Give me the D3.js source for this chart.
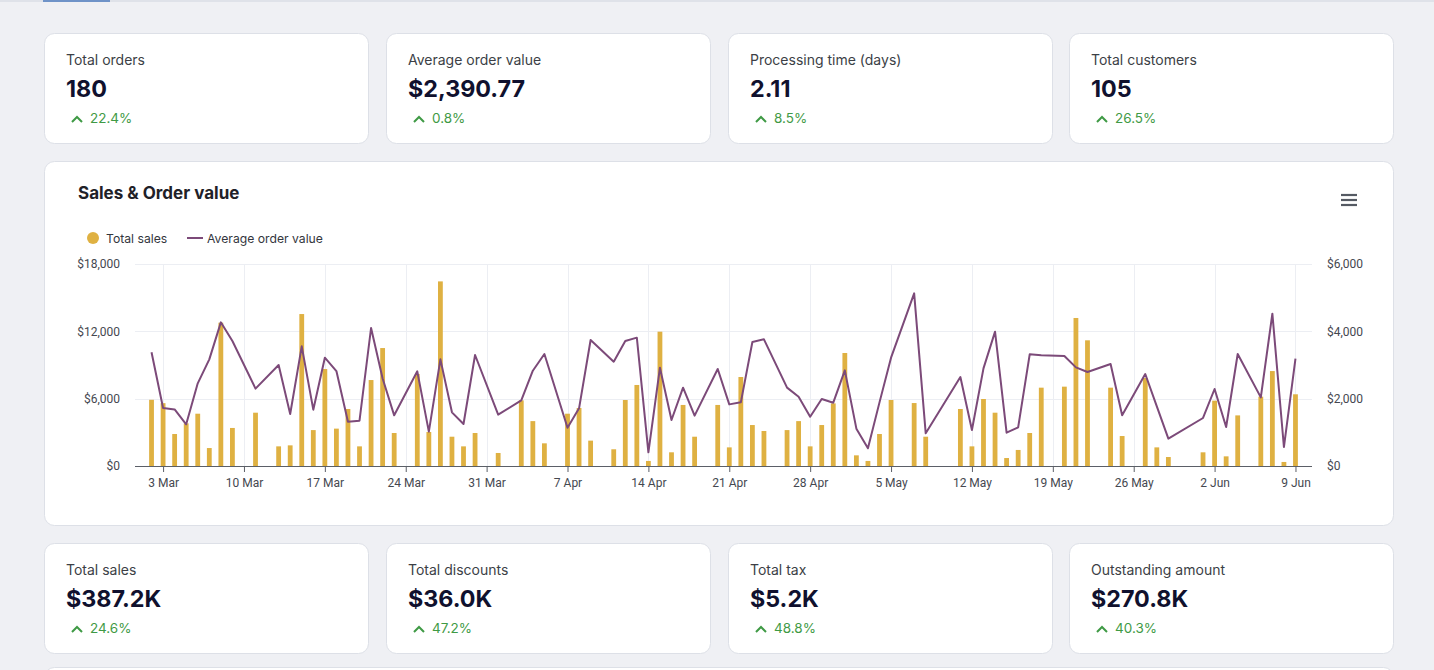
<!DOCTYPE html>
<html>
<head>
<meta charset="utf-8">
<script src="https://cdn.jsdelivr.net/npm/d3@7"></script>
<style>
  html, body { margin: 0; padding: 0; background: #eff0f4; }
  svg { display: block; font-family: Inter, "Noto Sans", sans-serif; }
</style>
</head>
<body>
<div id="chart"></div>
<script>
// Daily data, 2 Mar 2024 .. 9 Jun 2024 (one value per day)
const startDay = '2024-03-02'
const totalSales = [
  5900, 5600, 2850, 3800, 4660, 1600, 12770, 3390, 0, 4750,
  0, 1750, 1840, 13540, 3200, 8640, 3330, 5080, 1750, 7660,
  10510, 2940, 0, 8200, 3030, 16450, 2610, 1750, 2940, 0,
  1160, 0, 5850, 4000, 2020, 0, 4660, 5170, 2260, 0,
  1490, 5880, 7220, 450, 11970, 1220, 5440, 2610, 0, 5440,
  1660, 7930, 3650, 3120, 0, 3200, 4000, 1750, 3650, 5580,
  10070, 950, 450, 2850, 5880, 0, 5610, 2610, 0, 0,
  5080, 1750, 5970, 4750, 710, 1430, 2940, 6980, 0, 7070,
  13190, 11200, 0, 6980, 2670, 0, 7840, 1660, 800, 0,
  0, 1220, 5820, 860, 4510, 0, 6180, 8460, 360, 6390
]
const avgOrderValue = [
  3380, 1723, 1680, 1238, 2455, 3168, 4267, 3713, null, 2297,
  null, 3000, 1544, 3554, 1673, 3218, 2820, 1317, 1346, 4099,
  2600, 1505, null, 2812, 1020, 3168, 1594, 1247, 3297, null,
  1525, null, 1950, 2830, 3326, null, 1138, 1713, 3742, null,
  3099, 3713, 3812, 406, 2920, 1366, 2326, 1495, null, 2881,
  1830, 1891, 3683, 3762, null, 2327, 2059, 1465, 1990, 1881,
  2841, 1109, 525, 1890, 3218, null, 5128, 970, null, null,
  2643, 1069, 2900, 3990, 990, 1148, 3317, 3287, null, 3267,
  2930, 2792, null, 3029, 1505, null, 2732, 1770, 812, null,
  null, 1426, 2287, 1158, 3326, null, 2039, 4524, 564, 3188
]
const leftTicks = [0, 6000, 12000, 18000]
const rightTicks = [0, 2000, 4000, 6000]

const topCards = [
  { label: 'Total orders', value: '180', change: '22.4%' },
  { label: 'Average order value', value: '$2,390.77', change: '0.8%' },
  { label: 'Processing time (days)', value: '2.11', change: '8.5%' },
  { label: 'Total customers', value: '105', change: '26.5%' }
]
const bottomCards = [
  { label: 'Total sales', value: '$387.2K', change: '24.6%' },
  { label: 'Total discounts', value: '$36.0K', change: '47.2%' },
  { label: 'Total tax', value: '$5.2K', change: '48.8%' },
  { label: 'Outstanding amount', value: '$270.8K', change: '40.3%' }
]

const W = 1434, H = 670
const BAR = '#dfb142', LINE = '#7c4a79', GREEN = '#3f9a45'

const svg = d3.select('#chart').append('svg')
  .attr('width', W).attr('height', H)

// top tab strip
svg.append('rect').attr('x', 0).attr('y', 0).attr('width', W).attr('height', 2).attr('fill', '#dfe2e9')
svg.append('rect').attr('x', 43).attr('y', 0).attr('width', 67).attr('height', 2).attr('fill', '#6f93c8')

function card(x, y, w, h) {
  return svg.append('rect')
    .attr('x', x - 0.5).attr('y', y + 0.5).attr('width', w).attr('height', h)
    .attr('rx', 10).attr('fill', '#fff').attr('stroke', '#dde0e7')
}

function kpiRow(cards, y) {
  const xs = [45, 387, 729, 1070]
  cards.forEach((c, i) => {
    const x = xs[i]
    card(x, y, 324, 110)
    svg.append('text').attr('x', x + 21).attr('y', y + 32)
      .attr('font-size', 14).attr('fill', '#3c3f46').text(c.label)
    svg.append('text').attr('x', x + 21).attr('y', y + 64)
      .attr('font-size', 23.3).attr('font-weight', 700).attr('fill', '#10112e').text(c.value)
    svg.append('path')
      .attr('d', `M${x + 27},${y + 89} L${x + 32},${y + 84} L${x + 37},${y + 89}`)
      .attr('fill', 'none').attr('stroke', GREEN).attr('stroke-width', 2)
    svg.append('text').attr('x', x + 45).attr('y', y + 90)
      .attr('font-size', 13.5).attr('fill', GREEN).text(c.change)
  })
}

kpiRow(topCards, 33)
kpiRow(bottomCards, 543)
card(45, 667, 1349, 40)

// chart card
card(45, 161, 1349, 364)
svg.append('text').attr('x', 78).attr('y', 199)
  .attr('font-size', 17).attr('font-weight', 700).attr('fill', '#1f2128')
  .text('Sales & Order value')

// menu icon
;[195, 200, 205].forEach(yy => {
  svg.append('line').attr('x1', 1341).attr('x2', 1357).attr('y1', yy).attr('y2', yy)
    .attr('stroke', '#555a63').attr('stroke-width', 2.2)
})

// legend
const legend = svg.append('g').attr('font-size', 12.2).attr('fill', '#33363d')
legend.append('circle').attr('cx', 93).attr('cy', 238).attr('r', 6).attr('fill', BAR)
legend.append('text').attr('x', 106).attr('y', 242.5).text('Total sales')
legend.append('line').attr('x1', 187).attr('x2', 203).attr('y1', 238).attr('y2', 238)
  .attr('stroke', LINE).attr('stroke-width', 2)
legend.append('text').attr('x', 207).attr('y', 242.5).text('Average order value')

// scales
const parse = d3.utcParse('%Y-%m-%d')
const day0 = parse(startDay)
const days = totalSales.map((_, i) => d3.utcDay.offset(day0, i))
const salesData = days.map((d, i) => ({ date: d, v: totalSales[i] }))
const aovData = days.map((d, i) => ({ date: d, v: avgOrderValue[i] })).filter(d => d.v != null)

const dayMs = 864e5
const x = d3.scaleUtc()
  .domain([new Date(+days[0] - 1.43 * dayMs), new Date(+days[days.length - 1] + 1.43 * dayMs)])
  .range([135, 1312])
const yL = d3.scaleLinear().domain([0, 18000]).range([466, 264])
const yR = d3.scaleLinear().domain([0, 6000]).range([466, 264])

const weekTicks = d3.utcDay.range(parse('2024-03-03'), parse('2024-06-10'), 7)
const fmtMoney = d3.format('$,')

// grid
const grid = svg.append('g')
grid.selectAll('.hg').data(leftTicks.filter(t => t > 0)).join('line')
  .attr('x1', 135).attr('x2', 1312)
  .attr('y1', d => Math.round(yL(d)) + 0.5).attr('y2', d => Math.round(yL(d)) + 0.5)
  .attr('stroke', '#eceef3')
grid.selectAll('.vg').data(weekTicks).join('line')
  .attr('x1', d => Math.round(x(d)) + 0.5).attr('x2', d => Math.round(x(d)) + 0.5)
  .attr('y1', 264).attr('y2', 466)
  .attr('stroke', '#eceef3')

// bars
const bw = 4.8
svg.append('g').selectAll('rect').data(salesData.filter(d => d.v > 0)).join('rect')
  .attr('x', d => x(d.date) - bw / 2)
  .attr('width', bw)
  .attr('y', d => yL(d.v))
  .attr('height', d => yL(0) - yL(d.v))
  .attr('fill', BAR)

// line
svg.append('path').datum(aovData)
  .attr('fill', 'none').attr('stroke', LINE).attr('stroke-width', 2)
  .attr('stroke-linejoin', 'round')
  .attr('d', d3.line().x(d => x(d.date)).y(d => yR(d.v)))

// axes
const axisFont = 'Roboto, Inter, sans-serif'
const leftAxis = svg.append('g').attr('transform', 'translate(120,0)')
  .call(d3.axisLeft(yL).tickValues(leftTicks).tickFormat(fmtMoney).tickSize(0).tickPadding(0))
leftAxis.select('.domain').remove()
leftAxis.selectAll('text').attr('font-size', 12).attr('font-family', axisFont).attr('fill', '#454850')

const rightAxis = svg.append('g').attr('transform', 'translate(1327,0)')
  .call(d3.axisRight(yR).tickValues(rightTicks).tickFormat(fmtMoney).tickSize(0).tickPadding(0))
rightAxis.select('.domain').remove()
rightAxis.selectAll('text').attr('font-size', 12).attr('font-family', axisFont).attr('fill', '#454850')

const bottomAxis = svg.append('g').attr('transform', 'translate(0,466)')
  .call(d3.axisBottom(x).tickValues(weekTicks).tickFormat(d3.utcFormat('%-d %b')).tickSize(6).tickPadding(6))
bottomAxis.select('.domain').attr('d', 'M135,0.5H1312').attr('stroke', '#5b5f67')
bottomAxis.selectAll('.tick line').attr('stroke', '#5b5f67')
bottomAxis.selectAll('text').attr('font-size', 12).attr('font-family', axisFont).attr('fill', '#454850')
</script>
</body>
</html>
